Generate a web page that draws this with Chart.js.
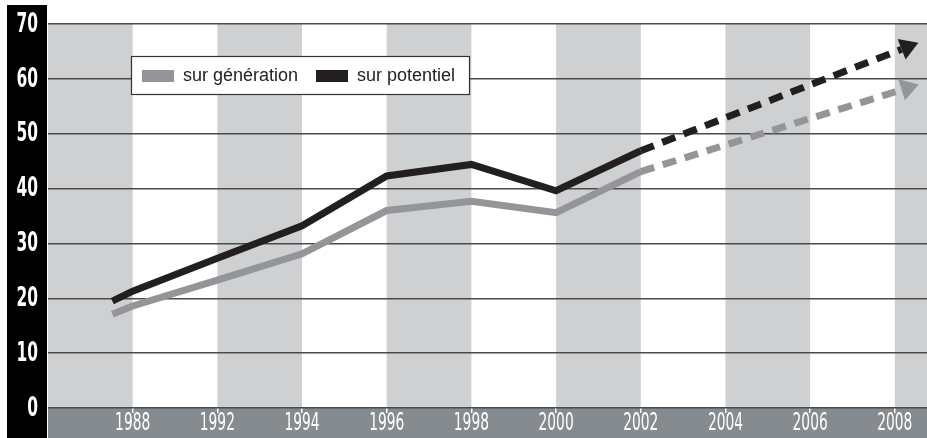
<!DOCTYPE html>
<html>
<head>
<meta charset="utf-8">
<script src="https://cdn.jsdelivr.net/npm/chart.js@4/dist/chart.umd.min.js"></script>
<style>
  html, body { margin: 0; padding: 0; background: #fff; }
  #wrap { width: 927px; height: 438px; }
</style>
</head>
<body>
<div id="wrap"><canvas id="chart" width="927" height="438"></canvas></div>
<script>
/* ── Data ── */
const yearLabels      = ['1988', '1992', '1994', '1996', '1998', '2000', '2002', '2004', '2006', '2008'];
const yearSlots       = [1, 2, 3, 4, 5, 6, 7, 8, 9, 10];
const histSlots       = [0.76, 1, 2, 3, 4, 5, 6, 7];
const potentielVals   = [19.5, 21.3, 27.3, 33.2, 42.3, 44.4, 39.6, 46.9];
const generationVals  = [17.1, 18.6, 23.3, 28.1, 36.0, 37.7, 35.6, 43.1];
const projSlots       = [7, 10.08];
const potentielProj   = [46.9, 65.4];
const generationProj  = [43.1, 58.0];
const yTicks          = [0, 10, 20, 30, 40, 50, 60, 70];

const BLACK = '#231f20';
const GREY  = '#939598';
const BAND  = '#cfd0d2';
const FOOT  = '#858b8e';
const COND  = "'DejaVu Sans Condensed', 'DejaVu Sans', sans-serif";

const pts = (xs, ys) => xs.map((x, i) => ({ x, y: ys[i] }));

/* ── Background: bands, footer, black y strip ── */
const backdrop = {
  id: 'backdrop',
  beforeDraw(chart) {
    const { ctx, chartArea: a, scales: { x } } = chart;
    ctx.save();
    ctx.fillStyle = '#fff';
    ctx.fillRect(0, 0, chart.width, chart.height);
    ctx.fillStyle = BAND;
    for (let i = 0; i <= 10; i += 2) {
      const x0 = x.getPixelForValue(i);
      const x1 = Math.min(x.getPixelForValue(i + 1), a.right);
      ctx.fillRect(x0, a.top, x1 - x0, a.bottom - a.top);
    }
    ctx.fillStyle = FOOT;
    ctx.fillRect(a.left, a.bottom, a.right - a.left, chart.height - a.bottom);
    ctx.fillStyle = '#000';
    ctx.fillRect(7, 5, a.left - 8, chart.height - 5);
    ctx.restore();
  },
};

/* ── Condensed tick labels (squeezed horizontally, like the print font) ── */
function squeezedText(ctx, text, x, y, align, font, sx) {
  ctx.save();
  ctx.font = font;
  ctx.fillStyle = '#fff';
  ctx.textBaseline = 'middle';
  ctx.textAlign = align;
  ctx.translate(x, y);
  ctx.scale(sx, 1);
  ctx.fillText(text, 0, 0);
  ctx.restore();
}

const axisText = {
  id: 'axisText',
  afterDraw(chart) {
    const { ctx, chartArea: a, scales: { x, y } } = chart;
    y.ticks.forEach(t => {
      squeezedText(ctx, String(t.value), 38, y.getPixelForValue(t.value) + 1,
        'right', `bold 26px ${COND}`, 0.66);
    });
    x.ticks.forEach(t => {
      const label = yearLabels[yearSlots.indexOf(t.value)];
      squeezedText(ctx, label, x.getPixelForValue(t.value), a.bottom + 16,
        'center', `24px ${COND}`, 0.64);
    });
  },
};

/* ── Arrowheads on projections + legend box ── */
const overlay = {
  id: 'overlay',
  afterDatasetsDraw(chart) {
    const { ctx } = chart;
    chart.data.datasets.forEach((ds, i) => {
      if (!ds.arrow) return;
      const d = chart.getDatasetMeta(i).data;
      const p = d[d.length - 1], q = d[d.length - 2];
      const ang = Math.atan2(p.y - q.y, p.x - q.x);
      const len = 18, half = 11;
      ctx.save();
      ctx.translate(p.x, p.y);
      ctx.rotate(ang);
      ctx.fillStyle = ds.borderColor;
      ctx.beginPath();
      ctx.moveTo(len, 0);
      ctx.lineTo(0, -half);
      ctx.lineTo(0, half);
      ctx.closePath();
      ctx.fill();
      ctx.restore();
    });

    // legend
    ctx.save();
    ctx.fillStyle = '#fff';
    ctx.fillRect(131, 56, 339, 39);
    ctx.strokeStyle = '#333';
    ctx.lineWidth = 1.2;
    ctx.strokeRect(131.5, 56.5, 338, 38);
    ctx.font = "18px 'Liberation Sans', Arial, sans-serif";
    ctx.textBaseline = 'middle';
    const items = chart.data.datasets.filter(ds => !ds.arrow);
    const xs = [142, 316];
    items.forEach((ds, k) => {
      ctx.fillStyle = ds.borderColor;
      ctx.fillRect(xs[k], 70, 32, 12);
      ctx.fillStyle = '#222';
      ctx.fillText(ds.label, xs[k] + 41, 76);
    });
    ctx.restore();
  },
};

new Chart(document.getElementById('chart'), {
  type: 'line',
  data: {
    datasets: [
      { label: 'sur génération', data: pts(histSlots, generationVals), borderColor: GREY, borderWidth: 7 },
      { label: 'sur potentiel',  data: pts(histSlots, potentielVals),  borderColor: BLACK, borderWidth: 7 },
      { label: 'proj génération', data: pts(projSlots, generationProj), borderColor: GREY, borderWidth: 7, borderDash: [14, 9], arrow: true },
      { label: 'proj potentiel',  data: pts(projSlots, potentielProj),  borderColor: BLACK, borderWidth: 7, borderDash: [14, 9], arrow: true },
    ],
  },
  options: {
    responsive: false,
    animation: false,
    devicePixelRatio: 1,
    layout: { padding: { top: 24, left: 0, right: 0, bottom: 0 } },
    elements: {
      point: { radius: 0 },
      line: { tension: 0, borderJoinStyle: 'miter', borderCapStyle: 'butt', fill: false },
    },
    plugins: { legend: { display: false }, tooltip: { enabled: false } },
    scales: {
      x: {
        type: 'linear',
        min: 0, max: 10.38,
        afterBuildTicks: s => { s.ticks = yearSlots.map(v => ({ value: v })); },
        afterFit: s => { s.height = 30; },
        ticks: { display: false },
        grid: { drawOnChartArea: false, color: '#fff', lineWidth: 1.5, tickLength: 5 },
        border: { display: false },
      },
      y: {
        min: 0, max: 70,
        afterBuildTicks: s => { s.ticks = yTicks.map(v => ({ value: v })); },
        afterFit: s => { s.width = 48; },
        ticks: { display: false },
        grid: { color: '#4a4a4a', lineWidth: 1.5, drawTicks: false },
        border: { display: false },
      },
    },
  },
  plugins: [backdrop, axisText, overlay],
});
</script>
</body>
</html>
